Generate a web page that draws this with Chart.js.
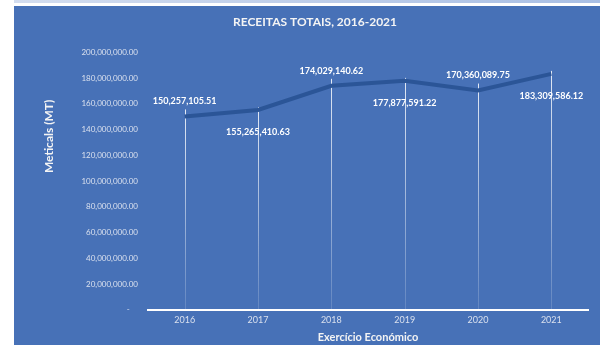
<!DOCTYPE html>
<html>
<head>
<meta charset="utf-8">
<script src="https://cdn.jsdelivr.net/npm/chart.js@4"></script>
<style>
  html, body { margin: 0; padding: 0; background: #fff; width: 600px; height: 345px; overflow: hidden; }
  #strip { position: absolute; left: 14px; top: 0; width: 586px; height: 3px;
           background: linear-gradient(to right, #d3ddef, #a9bfe4); }
  #panel { position: absolute; left: 14px; top: 6px; width: 586px; height: 339px; background: #4771b7; }
</style>
</head>
<body>
<div id="strip"></div>
<div id="panel"><canvas id="chart" width="586" height="339"></canvas></div>
<script>
// dados
const anos = ['2016', '2017', '2018', '2019', '2020', '2021'];
const receitas = [150257105.51, 155265410.63, 174029140.62, 177877591.22, 170360089.75, 183309586.12];

const fmt = v => v.toLocaleString('en-US', { minimumFractionDigits: 2, maximumFractionDigits: 2 });

// linhas verticais do ponto até o eixo
const dropLines = {
  id: 'dropLines',
  beforeDatasetsDraw(chart) {
    const { ctx, chartArea } = chart;
    chart.getDatasetMeta(0).data.forEach((pt, i) => {
      const top = pt.y - (i % 2 === 0 ? 7 : 3);
      const x = Math.round(pt.x) + 0.5;
      const g = ctx.createLinearGradient(0, top, 0, chartArea.bottom);
      g.addColorStop(0, 'rgba(255,255,255,0.85)');
      g.addColorStop(1, 'rgba(255,255,255,0.15)');
      ctx.save();
      ctx.strokeStyle = g;
      ctx.lineWidth = 1;
      ctx.beginPath();
      ctx.moveTo(x, top);
      ctx.lineTo(x, chartArea.bottom);
      ctx.stroke();
      ctx.restore();
    });
  }
};

// rótulos de dados, alternando acima / abaixo
const valueLabels = {
  id: 'valueLabels',
  afterDatasetsDraw(chart) {
    const { ctx } = chart;
    ctx.save();
    ctx.font = 'bold 9px Lato';
    ctx.fillStyle = '#ffffff';
    ctx.textAlign = 'center';
    ctx.textBaseline = 'middle';
    chart.getDatasetMeta(0).data.forEach((pt, i) => {
      const y = i % 2 === 0 ? pt.y - 15 : pt.y + 22;
      ctx.fillText(fmt(receitas[i]), pt.x, y);
    });
    ctx.restore();
  }
};

// título do eixo Y (deslocado para cima, como no original)
const yTitle = {
  id: 'yTitle',
  afterDraw(chart) {
    const { ctx, chartArea } = chart;
    ctx.save();
    ctx.translate(chartArea.left - 99, chartArea.top + 84);
    ctx.rotate(-Math.PI / 2);
    ctx.font = 'bold 12px Lato';
    ctx.fillStyle = '#f4f4f4';
    ctx.textAlign = 'center';
    ctx.textBaseline = 'middle';
    ctx.fillText('Meticals (MT)', 0, 0);
    ctx.restore();
  }
};

// o título do gráfico fica um pouco à direita do centro
const shiftTitle = {
  id: 'shiftTitle',
  afterLayout(chart) {
    const t = chart.titleBlock;
    if (t) { t.left += 14; t.right += 14; }
  }
};

new Chart(document.getElementById('chart'), {
  type: 'line',
  data: {
    labels: anos,
    datasets: [{
      data: receitas,
      borderColor: '#2b5597',
      borderWidth: 4,
      pointRadius: 0,
      tension: 0,
      fill: false
    }]
  },
  options: {
    responsive: false,
    animation: false,
    layout: { padding: { left: 0, right: 12, top: 0, bottom: 0 } },
    plugins: {
      legend: { display: false },
      tooltip: { enabled: false },
      title: {
        display: true,
        text: 'RECEITAS TOTAIS, 2016-2021',
        color: '#f4f4f4',
        font: { family: 'Lato', size: 12, weight: 'bold' },
        padding: { top: 9, bottom: 23 }
      }
    },
    scales: {
      x: {
        offset: true,
        grid: { display: false, drawTicks: false },
        border: { display: true, color: '#ffffff', width: 2 },
        ticks: { color: '#d9e0ee', font: { family: 'Lato', size: 9, lineHeight: 1 }, padding: 6 },
        title: {
          display: true,
          text: 'Exercício Económico',
          color: '#f4f4f4',
          font: { family: 'Lato', size: 11, weight: 'bold' },
          padding: { top: 0, bottom: 1 }
        }
      },
      y: {
        min: 0,
        max: 200000000,
        grid: { display: false, drawTicks: false },
        border: { display: false },
        afterFit(scale) { scale.width = 134; },
        ticks: {
          stepSize: 20000000,
          color: '#d9e0ee',
          font: { family: 'Lato', size: 8 },
          padding: 10,
          callback: v => v === 0 ? '-    ' : fmt(v)
        }
      }
    }
  },
  plugins: [dropLines, valueLabels, yTitle, shiftTitle]
});
</script>
</body>
</html>
